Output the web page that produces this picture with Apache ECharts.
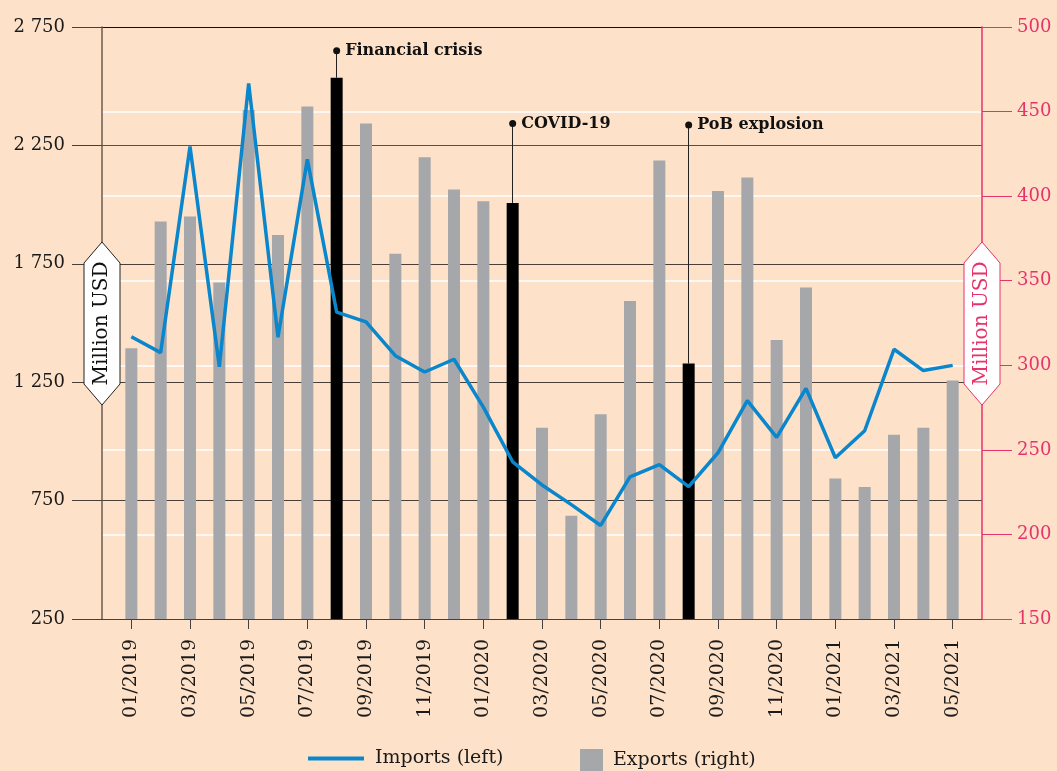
<!DOCTYPE html>
<html lang="en">
<head>
  <meta charset="UTF-8">
  <title>Imports and exports</title>
  <style>
    html, body { margin: 0; padding: 0; background: #fde2c9; }
    #chart { width: 1057px; height: 771px; }
  </style>
  <script src="https://cdn.jsdelivr.net/npm/echarts@6/dist/echarts.min.js"></script>
</head>
<body>
<div id="chart"></div>
<script>
  var months = ['01/2019', '02/2019', '03/2019', '04/2019', '05/2019', '06/2019', '07/2019', '08/2019',
    '09/2019', '10/2019', '11/2019', '12/2019', '01/2020', '02/2020', '03/2020', '04/2020', '05/2020',
    '06/2020', '07/2020', '08/2020', '09/2020', '10/2020', '11/2020', '12/2020', '01/2021', '02/2021',
    '03/2021', '04/2021', '05/2021'];

  // million USD, left axis
  var imports = [1442, 1375, 2245, 1315, 2512, 1440, 2191, 1546, 1505, 1362, 1293, 1347, 1145, 914,
    816, 733, 645, 850, 902, 809, 952, 1172, 1017, 1224, 931, 1045, 1389, 1299, 1321];

  // million USD, right axis
  var exports = [310, 385, 388, 349, 451, 377, 453, 470, 443, 366, 423, 404, 397, 396, 263, 211, 271,
    338, 421, 301, 403, 411, 315, 346, 233, 228, 259, 263, 291];

  var eventMonths = ['08/2019', '02/2020', '08/2020'];
  var eventNames = ['Financial crisis', 'COVID-19', 'PoB explosion'];
  var eventPinTop = [486, 443, 442];

  var leftTicks = [250, 750, 1250, 1750, 2250, 2750];
  var rightTicks = [150, 200, 250, 300, 350, 400, 450, 500];

  var serif = 'DejaVu Serif';
  var pink = '#e6336c';
  var blue = '#0a86cc';
  var grey = '#a6a7ab';
  var axisDark = '#4a3f38';

  // one empty slot on each side so the months sit inside the frame
  var cats = [''].concat(months, ['']);

  function pad(arr) {
    return [null].concat(arr, [null]);
  }

  function spaced(v) {
    return String(v).replace(/\B(?=(\d{3})+(?!\d))/g, ' ');
  }

  var barData = pad(exports).map(function (v, i) {
    if (v === null) return null;
    if (eventMonths.indexOf(cats[i]) >= 0) {
      return { value: v, itemStyle: { color: '#000' } };
    }
    return v;
  });

  var pinLines = eventMonths.map(function (m, k) {
    return [
      { coord: [m, exports[months.indexOf(m)]] },
      { coord: [m, eventPinTop[k]] }
    ];
  });

  var pinDots = eventMonths.map(function (m, k) {
    return { name: eventNames[k], coord: [m, eventPinTop[k]] };
  });

  var gridL = 102, gridR = 982, gridT = 27, gridB = 619;

  function badge(cx, stroke, color) {
    var top = 242, bot = 405, hw = 18, sh = 21;
    return [{
      type: 'polygon',
      z: 100,
      shape: { points: [[cx, top], [cx + hw, top + sh], [cx + hw, bot - sh], [cx, bot], [cx - hw, bot - sh], [cx - hw, top + sh]] },
      style: { fill: '#fff', stroke: stroke, lineWidth: 1 }
    }, {
      type: 'text',
      z: 101,
      x: cx,
      y: (top + bot) / 2,
      rotation: Math.PI / 2,
      style: {
        text: 'Million USD',
        x: 0, y: 0,
        align: 'center',
        verticalAlign: 'middle',
        fill: color,
        font: '20px "' + serif + '"'
      }
    }];
  }

  var chart = echarts.init(document.getElementById('chart'));

  chart.setOption({
    backgroundColor: '#fde2c9',
    animation: false,
    textStyle: { fontFamily: serif },
    grid: { left: gridL, right: 1057 - gridR, top: gridT, bottom: 771 - gridB },
    legend: [{
      data: ['Imports (left)'],
      left: 308,
      top: 749,
      padding: 0,
      icon: 'rect',
      itemWidth: 56,
      itemHeight: 4,
      textStyle: { fontFamily: serif, fontSize: 19, color: '#1a1a1a', padding: [0, 0, 0, 6] }
    }, {
      data: ['Exports (right)'],
      left: 580,
      top: 749,
      padding: 0,
      icon: 'rect',
      itemWidth: 23,
      itemHeight: 23,
      textStyle: { fontFamily: serif, fontSize: 19, color: '#1a1a1a', padding: [0, 0, 0, 5] }
    }],
    xAxis: {
      type: 'category',
      data: cats,
      boundaryGap: false,
      axisLine: { lineStyle: { color: axisDark, width: 1 } },
      axisTick: {
        length: 10,
        lineStyle: { color: axisDark },
        interval: function (i) { return i % 2 === 1; }
      },
      axisLabel: {
        rotate: 90,
        margin: 20,
        fontSize: 19,
        color: '#1a1a1a',
        fontFamily: serif,
        interval: function (i) { return i % 2 === 1; }
      },
      splitLine: { show: false }
    },
    yAxis: [{
      type: 'value',
      min: leftTicks[0],
      max: leftTicks[leftTicks.length - 1],
      interval: leftTicks[1] - leftTicks[0],
      axisLine: { show: true, lineStyle: { color: '#6b5b50', width: 1.5 } },
      axisTick: { show: true, length: 30, lineStyle: { color: axisDark } },
      axisLabel: {
        margin: 37,
        fontSize: 18,
        color: '#1a1a1a',
        fontFamily: serif,
        formatter: spaced
      },
      splitLine: {
        show: true,
        lineStyle: { color: [axisDark, axisDark, axisDark, axisDark, '#5a4e46', '#111'], width: 1.2 }
      }
    }, {
      type: 'value',
      position: 'right',
      min: rightTicks[0],
      max: rightTicks[rightTicks.length - 1],
      interval: rightTicks[1] - rightTicks[0],
      axisLine: { show: true, lineStyle: { color: pink, width: 1.5 } },
      axisTick: { show: true, length: 30, lineStyle: { color: pink } },
      axisLabel: { margin: 35, fontSize: 18, color: pink, fontFamily: serif },
      splitLine: { show: true, showMinLine: false, showMaxLine: false, lineStyle: { color: '#ffffff', width: 1.5 } }
    }],
    series: [{
      name: 'Exports (right)',
      type: 'bar',
      yAxisIndex: 1,
      barWidth: 12,
      itemStyle: { color: grey },
      data: barData,
      z: 3,
      markLine: {
        silent: true,
        symbol: ['none', 'none'],
        label: { show: false },
        lineStyle: { color: '#222', width: 1, type: 'solid' },
        data: pinLines
      },
      markPoint: {
        silent: true,
        symbol: 'circle',
        symbolSize: 7,
        itemStyle: { color: '#111' },
        label: {
          show: true,
          position: 'right',
          distance: 5,
          formatter: '{b}',
          color: '#111',
          fontFamily: serif,
          fontWeight: 'bold',
          fontSize: 16
        },
        data: pinDots
      }
    }, {
      name: 'Imports (left)',
      type: 'line',
      yAxisIndex: 0,
      data: pad(imports),
      symbol: 'none',
      z: 5,
      itemStyle: { color: blue },
      lineStyle: { color: blue, width: 3.5 }
    }],
    graphic: badge(gridL, '#222', '#111').concat(badge(gridR, pink, pink))
  });
</script>
</body>
</html>
